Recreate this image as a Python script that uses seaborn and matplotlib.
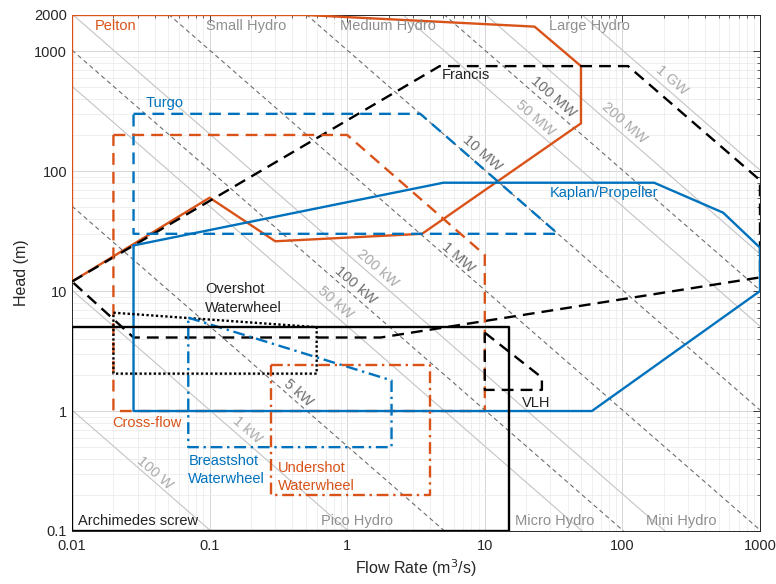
import numpy as np
import pandas as pd
import matplotlib
matplotlib.use("Agg")
import matplotlib.pyplot as plt
import seaborn as sns
from matplotlib.ticker import FixedLocator, LogLocator, NullFormatter, FixedFormatter

BLUE = "#0072BD"
ORANGE = "#D95319"
BLACK = "#000000"

# ---------------- data ----------------
RHO_G = 9810.0
# constant-power lines (W)
power_dashed = [5e3, 1e5, 1e6, 1e7, 1e8]
power_solid = [1e2, 1e3, 5e4, 2e5, 5e7, 2e8, 1e9]

# power-line labels: text, Q, H, solid/dashed
pl_text = ["100 W", "1 kW", "5 kW", "50 kW", "100 kW", "200 kW", "1 MW",
           "10 MW", "50 MW", "100 MW", "200 MW", "1 GW"]
pl_q = [0.040, 0.187, 0.438, 0.815, 1.14, 1.65, 6.38, 9.55, 23.2, 31.3, 104, 229]
pl_h = [0.304, 0.695, 1.41, 7.94, 11.2, 15.5, 19.2, 141, 277, 414, 251, 573]
pl_dashed = [False, False, True, False, True, False, True, True, False, True, False, False]

# turbine envelopes (closed polygons), Q in m3/s, H in m
pelton_q = [0.01, 0.5, 23, 50, 50, 3.5, 0.3, 0.1, 0.01, 0.01]
pelton_h = [2000, 2000, 1600, 750, 250, 30, 26, 60, 12, 2000]

francis_q = [0.01, 4.7, 110, 1000, 1000, 1.75, 0.028, 0.01]
francis_h = [12, 750, 750, 84, 13, 4.1, 4.1, 12]

turgo_q = [0.028, 3.4, 34, 0.028, 0.028]
turgo_h = [300, 300, 30, 30, 300]

crossflow_q = [0.02, 1.0, 10, 10, 0.02, 0.02]
crossflow_h = [200, 200, 20, 1, 1, 200]

kaplan_q = [0.028, 5, 170, 540, 1000, 1000, 60, 0.028, 0.028]
kaplan_h = [24, 80, 80, 45, 23, 10, 1, 1, 24]

overshot_q = [0.02, 0.6, 0.6, 0.02, 0.02]
overshot_h = [6.6, 5.0, 2.05, 2.05, 6.6]

breastshot_q = [0.07, 2.1, 2.1, 0.07, 0.07]
breastshot_h = [6.0, 1.8, 0.5, 0.5, 6.0]

undershot_q = [0.28, 4.0, 4.0, 0.28, 0.28]
undershot_h = [2.4, 2.4, 0.2, 0.2, 2.4]

archimedes_q = [0.01, 15, 15, 0.01, 0.01]
archimedes_h = [5.0, 5.0, 0.1, 0.1, 5.0]

vlh_q = [10, 26, 26, 10, 10]
vlh_h = [4.5, 1.9, 1.5, 1.5, 4.5]

x_ticks = [0.01, 0.1, 1, 10, 100, 1000]
x_ticklabels = ["0.01", "0.1", "1", "10", "100", "1000"]
y_ticks = [0.1, 1, 10, 100, 1000, 2000]
y_ticklabels = ["0.1", "1", "10", "100", "1000", "2000"]

# ---------------- figure ----------------
sns.set_theme(style="white")
plt.rcParams["font.family"] = ["Liberation Sans", "DejaVu Sans"]

fig = plt.figure(figsize=(7.76, 5.84), dpi=100)
ax = fig.add_axes([72 / 776, 1 - 531 / 584, (760 - 72) / 776, (531 - 15) / 584])
ax.set_xscale("log")
ax.set_yscale("log")
ax.set_xlim(0.01, 1000)
ax.set_ylim(0.1, 2000)

# grid
ax.grid(True, which="major", color="#d6d6d6", lw=0.7, zorder=0)
ax.grid(True, which="minor", color="#ececec", lw=0.6, zorder=0)
ax.set_axisbelow(True)

# constant-power lines
qq = np.array([0.01, 1000.0])
for p in power_solid:
    sns.lineplot(x=qq, y=p / (RHO_G * qq), ax=ax, color="#c4c4c4", lw=0.8,
                 estimator=None, sort=False, zorder=1)
for p in power_dashed:
    sns.lineplot(x=qq, y=p / (RHO_G * qq), ax=ax, color="#6e6e6e", lw=0.8,
                 estimator=None, sort=False, dashes=False, linestyle=(0, (4, 3)), zorder=1)

LW = 1.7
def poly(q, h, color, ls):
    sns.lineplot(x=q, y=h, ax=ax, color=color, lw=LW, estimator=None, sort=False,
                 linestyle=ls, zorder=3)

poly(pelton_q, pelton_h, ORANGE, "-")
poly(francis_q, francis_h, BLACK, (0, (5, 3)))
poly(turgo_q, turgo_h, BLUE, (0, (5, 3)))
poly(crossflow_q, crossflow_h, ORANGE, (0, (5, 3)))
poly(kaplan_q, kaplan_h, BLUE, "-")
poly(overshot_q, overshot_h, BLACK, (0, (1, 1)))
poly(breastshot_q, breastshot_h, BLUE, (0, (5, 2, 1, 2)))
poly(undershot_q, undershot_h, ORANGE, (0, (5, 2, 1, 2)))
poly(archimedes_q, archimedes_h, BLACK, "-")
poly(vlh_q, vlh_h, BLACK, (0, (5, 3)))

# rotation of constant-power lines in display space
fig.canvas.draw()
p1 = ax.transData.transform((1, 1))
p2 = ax.transData.transform((10, 0.1))
ang = np.degrees(np.arctan2(p2[1] - p1[1], p2[0] - p1[0]))

FS = 10.5
for t, q, h, d in zip(pl_text, pl_q, pl_h, pl_dashed):
    ax.text(q, h, t, rotation=ang, rotation_mode="anchor", ha="center", va="center",
            color="#6e6e6e" if d else "#aaaaaa", fontsize=FS, zorder=2)

# category labels
gray = "#8f8f8f"
ax.text(0.184, 1616, "Small Hydro", color=gray, ha="center", va="center", fontsize=FS)
ax.text(1.98, 1616, "Medium Hydro", color=gray, ha="center", va="center", fontsize=FS)
ax.text(58, 1616, "Large Hydro", color=gray, ha="center", va="center", fontsize=FS)
ax.text(1.18, 0.121, "Pico Hydro", color=gray, ha="center", va="center", fontsize=FS)
ax.text(32, 0.121, "Micro Hydro", color=gray, ha="center", va="center", fontsize=FS)
ax.text(267, 0.121, "Mini Hydro", color=gray, ha="center", va="center", fontsize=FS)

ax.text(0.0147, 1616, "Pelton", color=ORANGE, ha="left", va="center", fontsize=FS)
ax.text(4.89, 631, "Francis", color="#222222", ha="left", va="center", fontsize=FS)
ax.text(0.034, 369, "Turgo", color=BLUE, ha="left", va="center", fontsize=FS)
ax.text(29.8, 65.6, "Kaplan/Propeller", color=BLUE, ha="left", va="center", fontsize=FS)
ax.text(0.0927, 8.7, "Overshot\nWaterwheel", color="#222222", ha="left", va="center",
        fontsize=FS, linespacing=1.4)
ax.text(0.0195, 0.794, "Cross-flow", color=ORANGE, ha="left", va="center", fontsize=FS)
ax.text(0.07, 0.322, "Breastshot\nWaterwheel", color=BLUE, ha="left", va="center",
        fontsize=FS, linespacing=1.4)
ax.text(0.314, 0.282, "Undershot\nWaterwheel", color=ORANGE, ha="left", va="center",
        fontsize=FS, linespacing=1.4)
ax.text(18.6, 1.17, "VLH", color="#222222", ha="left", va="center", fontsize=FS)
ax.text(0.011, 0.121, "Archimedes screw", color="#222222", ha="left", va="center", fontsize=FS)

# ticks and labels
ax.xaxis.set_major_locator(FixedLocator(x_ticks))
ax.xaxis.set_major_formatter(FixedFormatter(x_ticklabels))
ax.yaxis.set_major_locator(FixedLocator(y_ticks))
ax.yaxis.set_major_formatter(FixedFormatter(y_ticklabels))
ax.xaxis.set_minor_locator(LogLocator(base=10, subs=np.arange(2, 10)))
ax.yaxis.set_minor_locator(LogLocator(base=10, subs=np.arange(2, 10)))
ax.xaxis.set_minor_formatter(NullFormatter())
ax.yaxis.set_minor_formatter(NullFormatter())
ax.tick_params(which="both", direction="in", top=True, right=True, colors="#262626",
               labelsize=FS)
ax.tick_params(which="major", length=5, width=0.6)
ax.tick_params(which="minor", length=2.5, width=0.5)
ax.tick_params(axis="x", which="major", pad=6)
for s in ax.spines.values():
    s.set_color("#262626")
    s.set_linewidth(0.7)

ax.set_xlabel("Flow Rate (m$^3$/s)", fontsize=11.5, color="#262626", labelpad=3)
ax.set_ylabel("Head (m)", fontsize=11.5, color="#262626")

fig.savefig("out.png", dpi=100)
